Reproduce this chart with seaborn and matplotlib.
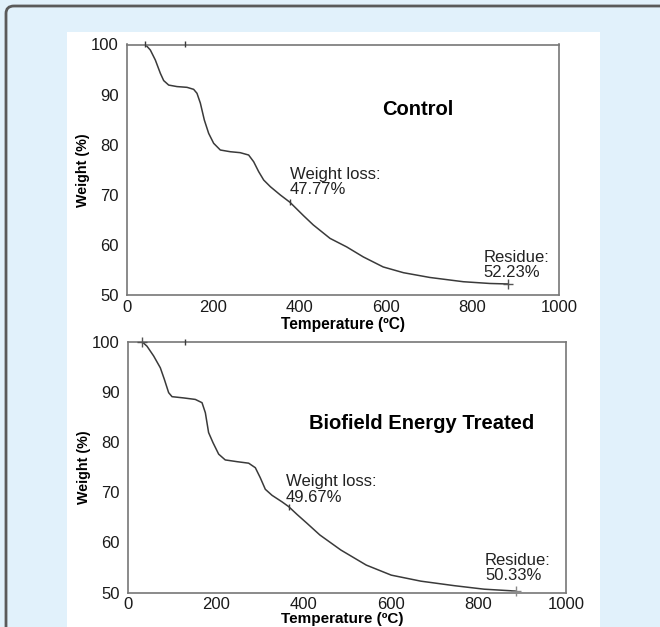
import numpy as np
import pandas as pd
import seaborn as sns
import matplotlib
matplotlib.use("Agg")
import matplotlib.pyplot as plt
from matplotlib.patches import FancyBboxPatch, Rectangle
from matplotlib.ticker import MultipleLocator

# ---- data (Temperature °C, Weight %) ----
control_temp = [42.4, 54, 65.6, 77.2, 84.9, 96.5, 115.7, 138.9, 154.3, 162, 169.8, 179, 189,
                200.6, 216, 239, 262, 281.6, 293.2, 304.8, 316.4, 331.8, 355, 377.3, 409, 431,
                470, 508.5, 547, 593, 640, 701, 778.5, 840, 882.7]
control_weight = [100, 98.9, 96.9, 94.25, 92.8, 91.9, 91.6, 91.45, 91.05, 90.26, 88.3, 84.93, 82.27,
                  80.28, 78.94, 78.6, 78.41, 77.94, 76.6, 74.62, 72.95, 71.62, 69.96, 68.5, 65.8, 64.0,
                  61.3, 59.6, 57.6, 55.6, 54.45, 53.5, 52.65, 52.3, 52.2]

treated_temp = [32, 43.4, 58.6, 73.8, 83, 92.8, 100.5, 127, 153.7, 169, 176.6, 184, 194, 207, 222,
                249, 275.5, 290.7, 302, 313.5, 328.8, 351.6, 366.8, 385.8, 409, 438, 486, 544,
                601, 668.5, 745, 813, 885]
treated_weight = [100, 99.1, 97.15, 94.8, 92.5, 89.85, 89.05, 88.8, 88.5, 87.85, 85.85, 81.9, 79.9,
                  77.6, 76.45, 76.1, 75.8, 74.9, 72.9, 70.6, 69.4, 68.1, 67.15, 65.6, 63.8, 61.5,
                  58.5, 55.5, 53.5, 52.3, 51.4, 50.7, 50.33]

# cursor marks (start, top-spine mark, weight-loss point, residue end)
control_marks_t = [42.4, 135, 377.3]
control_marks_w = [100, 100, 68.5]
control_end = (882.7, 52.2)
treated_marks_t = [130, 366.8]
treated_marks_w = [100, 67.15]
treated_start = (32, 100)
treated_end = (885, 50.33)

titles = ["Control", "Biofield Energy Treated"]
loss_labels = ["Weight loss:\n47.77%", "Weight loss:\n49.67%"]
residue_labels = ["Residue:\n52.23%", "Residue:\n50.33%"]
x_ticks = [0, 200, 400, 600, 800, 1000]
y_ticks = [50, 60, 70, 80, 90, 100]

# ---- style ----
sns.set_style("white")
plt.rcParams['font.family'] = ['Liberation Sans', 'DejaVu Sans']

fig = plt.figure(figsize=(6.6, 6.27), dpi=100)
fig.patch.set_facecolor("#e1f1fb")

# outer frame (rounded top-left, running past right/bottom edges)
frame = FancyBboxPatch((6 / 660, -0.2), 1.2, 1 - 6 / 627 + 0.2,
                       boxstyle="round,pad=0,rounding_size=0.012",
                       transform=fig.transFigure, facecolor="#e1f1fb",
                       edgecolor="#5a5a5a", linewidth=2.0, zorder=-3)
fig.patches.append(frame)
# white panel
panel = Rectangle((67 / 660, -0.05), 533 / 660, 1 - 32 / 627 + 0.05,
                  transform=fig.transFigure, facecolor="white",
                  edgecolor="none", zorder=-2)
fig.patches.append(panel)

ax1 = fig.add_axes([127 / 660, 1 - 295 / 627, 432 / 660, 250.5 / 627])
ax2 = fig.add_axes([128 / 660, 1 - 592.7 / 627, 438 / 660, 251 / 627])

df1 = pd.DataFrame({"Temperature": control_temp, "Weight": control_weight})
df2 = pd.DataFrame({"Temperature": treated_temp, "Weight": treated_weight})

line_col = "#3a3a3a"
sns.lineplot(data=df1, x="Temperature", y="Weight", ax=ax1, color=line_col, lw=1.1, sort=False)
sns.lineplot(data=df2, x="Temperature", y="Weight", ax=ax2, color=line_col, lw=1.1, sort=False)

ax1.plot(control_marks_t, control_marks_w, ls="none", marker="|", ms=5, mew=1.0,
         color=line_col, clip_on=False, zorder=5)
ax1.plot([control_end[0]], [control_end[1]], ls="none", marker="+", ms=7, mew=1.0,
         color="#555555", clip_on=False, zorder=5)
ax2.plot(treated_marks_t, treated_marks_w, ls="none", marker="|", ms=5, mew=1.0,
         color=line_col, clip_on=False, zorder=5)
ax2.plot([treated_start[0]], [treated_start[1]], ls="none", marker="+", ms=7, mew=1.0,
         color="#555555", clip_on=False, zorder=5)
ax2.plot([treated_end[0]], [treated_end[1]], ls="none", marker="+", ms=7, mew=1.0,
         color="#888888", clip_on=False, zorder=5)

spine_col = "#777777"
for ax in (ax1, ax2):
    ax.set_facecolor("white")
    ax.set_xlim(0, 1000)
    ax.set_ylim(50, 100)
    ax.set_xticks(x_ticks)
    ax.set_yticks(y_ticks)
    ax.xaxis.set_minor_locator(MultipleLocator(50))
    ax.yaxis.set_minor_locator(MultipleLocator(2.5))
    ax.tick_params(axis="both", which="major", direction="out", length=3.5, width=1.0,
                   color=spine_col, labelsize=12, labelcolor="#1a1a1a", pad=2.5)
    ax.tick_params(axis="both", which="minor", direction="out", length=2, width=0.9,
                   color=spine_col)
    ax.tick_params(axis="x", which="major", length=3, pad=0.3)
    for s in ax.spines.values():
        s.set_visible(True)
        s.set_color(spine_col)
        s.set_linewidth(1.2)
    ax.set_xlabel("")
    ax.set_ylabel("")

# annotations
ax1.text(674, 87.1, titles[0], ha="center", va="center", fontsize=14.5, fontweight="bold", color="black")
ax1.text(377, 72.55, loss_labels[0], ha="left", va="center", fontsize=12, color="#222222", linespacing=1.05)
ax1.text(826, 56.0, residue_labels[0], ha="left", va="center", fontsize=12, color="#222222", linespacing=1.05)

ax2.text(671, 83.8, titles[1], ha="center", va="center", fontsize=14.5, fontweight="bold", color="black")
ax2.text(361, 70.5, loss_labels[1], ha="left", va="center", fontsize=12, color="#222222", linespacing=1.05)
ax2.text(815, 54.9, residue_labels[1], ha="left", va="center", fontsize=12, color="#222222", linespacing=1.05)

# axis titles
fig.text(83 / 660, 1 - 170 / 627, "Weight (%)", rotation=90, ha="center", va="center",
         fontsize=10.3, fontweight="bold", color="black")
fig.text(84 / 660, 1 - 467 / 627, "Weight (%)", rotation=90, ha="center", va="center",
         fontsize=10.3, fontweight="bold", color="black")
fig.text(343 / 660, 1 - 324 / 627, "Temperature (ºC)", ha="center", va="center",
         fontsize=11.2, fontweight="bold", color="black")
fig.text(342 / 660, 1 - 626.3 / 627, "Temperature (ºC)", ha="center", va="bottom",
         fontsize=11, fontweight="bold", color="black")

fig.savefig("out.png", dpi=100, facecolor=fig.get_facecolor())
